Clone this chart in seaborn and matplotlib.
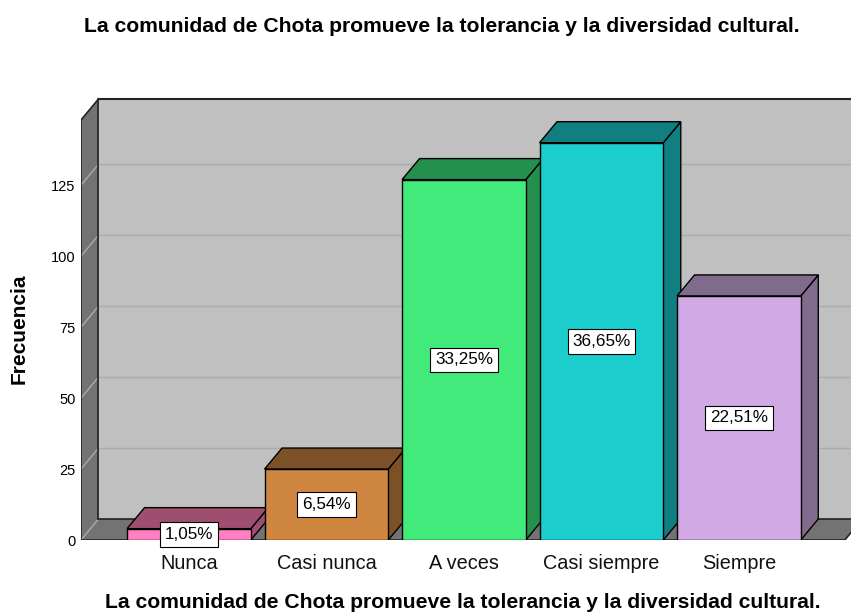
import matplotlib
matplotlib.use('Agg')
import matplotlib.pyplot as plt
import seaborn as sns
import pandas as pd
from matplotlib.patches import Polygon, Rectangle

# datos
categorias = ['Nunca', 'Casi nunca', 'A veces', 'Casi siempre', 'Siempre']
frecuencias = [4, 25, 127, 140, 86]
y_ticks = [0, 25, 50, 75, 100, 125]
colores = ['#FF80C0', '#CF8640', '#42EA7C', '#1CCDCD', '#D1A9E5']
colores_osc = ['#9E4F6F', '#7D5127', '#25904D', '#117F7F', '#806B8C']

titulo = 'La comunidad de Chota promueve la tolerancia y la diversidad cultural.'

total = sum(frecuencias)
etiquetas = [f'{f / total * 100:.2f}%'.replace('.', ',') for f in frecuencias]

df = pd.DataFrame({'respuesta': categorias, 'frecuencia': frecuencias})

sns.set_style('white')
plt.rcParams['font.family'] = ['Liberation Sans', 'DejaVu Sans']

fig = plt.figure(figsize=(8.51, 6.14), dpi=100)
ax = fig.add_axes([81 / 851, (614 - 540) / 614, 770 / 851, 441 / 614])

# ---------------- barras ----------------
sns.barplot(data=df, x='respuesta', y='frecuencia', hue='respuesta', palette=colores,
            saturation=1, width=0.9, edgecolor='black', linewidth=1, legend=False, ax=ax)
barras = sorted([p for p in ax.patches if isinstance(p, Rectangle)], key=lambda p: p.get_x())

# profundidad 3D en unidades de datos
dx, dy = 0.127, 7.4
x0, x1 = -0.785, 4.77
ytop = 148.0
xright = x0 + 770 / 137.5

# ---------------- paredes ----------------
gris_pared = '#C0C0C0'
gris_osc = '#737373'
ax.add_patch(Polygon([(x0 + dx, dy), (xright + 1, dy), (xright + 1, ytop + dy), (x0 + dx, ytop + dy)],
                     closed=True, fc=gris_pared, ec='none', zorder=0))
ax.add_patch(Polygon([(x0, 0), (x0, ytop), (x0 + dx, ytop + dy), (x0 + dx, dy)],
                     closed=True, fc=gris_osc, ec='none', zorder=0))
ax.add_patch(Polygon([(x0, 0), (x1, 0), (x1 + dx, dy), (x0 + dx, dy)],
                     closed=True, fc=gris_osc, ec='none', zorder=0))

# lineas de cuadricula
for v in y_ticks:
    if v > 0:
        ax.plot([x0 + dx, xright + 1], [v + dy, v + dy], color='#ABABAB', lw=1, zorder=0.5)
    ax.plot([x0, x0 + dx], [v, v + dy], color='#ABABAB', lw=1, zorder=0.5)

borde = '#222222'
ax.plot([x0, x0], [0, ytop], color=borde, lw=1.2, zorder=1)
ax.plot([x0, x0 + dx], [ytop, ytop + dy], color=borde, lw=1.2, zorder=1)
ax.plot([x0 + dx, x0 + dx], [dy, ytop + dy], color=borde, lw=1.2, zorder=1)
ax.plot([x0 + dx, xright + 1], [ytop + dy, ytop + dy], color=borde, lw=1.5, zorder=1, clip_on=False)
ax.plot([x0 + dx, xright + 1], [dy, dy], color=borde, lw=1.2, zorder=1)
ax.plot([x0, x1], [0, 0], color=borde, lw=1.2, zorder=1)
ax.plot([x1, x1 + dx], [0, dy], color=borde, lw=1.2, zorder=1)

for i, p in enumerate(barras):
    xa = p.get_x()
    xb = xa + p.get_width()
    h = p.get_height()
    p.set_zorder(3 + 2 * i)
    ax.add_patch(Polygon([(xb, 0), (xb, h), (xb + dx, h + dy), (xb + dx, dy)],
                         closed=True, fc=colores_osc[i], ec='black', lw=1, zorder=2.5 + 2 * i))
    ax.add_patch(Polygon([(xa, h), (xa + dx, h + dy), (xb + dx, h + dy), (xb, h)],
                         closed=True, fc=colores_osc[i], ec='black', lw=1, zorder=2.5 + 2 * i))
    ax.text(xa + p.get_width() / 2, h / 2, etiquetas[i], ha='center', va='center',
            fontsize=12.3, color='black', zorder=20,
            bbox=dict(boxstyle='square,pad=0.28', fc='white', ec='black', lw=0.8))

ax.set_xlim(x0, xright)
ax.set_ylim(0, ytop + dy)
ax.set_yticks(y_ticks)
ax.set_yticklabels([str(v) for v in y_ticks], fontsize=10.5, color='black')
ax.tick_params(axis='y', length=0, pad=4)
ax.tick_params(axis='x', length=0, pad=10, labelsize=14.3, labelcolor='#111111')
ax.set_xlabel('')
ax.set_ylabel('')
for s in ax.spines.values():
    s.set_visible(False)

fig.text(442 / 851, 1 - 27 / 614, titulo, ha='center', va='center', fontsize=15.2,
         fontweight='bold', color='black')
fig.text(463 / 851, 1 - 603 / 614, titulo, ha='center', va='center', fontsize=15.2,
         fontweight='bold', color='black')
fig.text(19 / 851, 1 - 329 / 614, 'Frecuencia', ha='center', va='center', rotation=90,
         fontsize=15, fontweight='bold', color='black')

fig.savefig('out.png', dpi=100)
